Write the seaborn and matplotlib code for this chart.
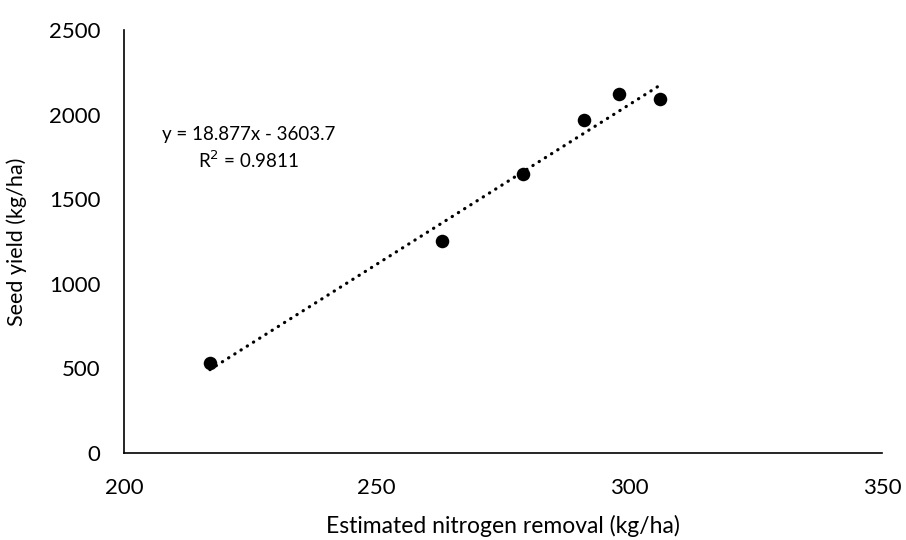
import matplotlib
matplotlib.use("Agg")
import matplotlib.pyplot as plt
import seaborn as sns
import numpy as np
import pandas as pd

# Data
nitrogen_removal = [217, 263, 279, 291, 298, 306]
seed_yield = [530, 1253, 1649, 1968, 2124, 2092]
slope = 18.877
intercept = -3603.7
r_squared = 0.9811
x_ticks = [200, 250, 300, 350]
y_ticks = [0, 500, 1000, 1500, 2000, 2500]

sns.set_theme(style="white")
plt.rcParams['font.family'] = ['Lato', 'DejaVu Sans']
FS = 16

fig = plt.figure(figsize=(9.06, 5.40), dpi=100)
ax = fig.add_axes([0.1369, 0.1611, 0.8366, 0.7833])

df = pd.DataFrame({"x": nitrogen_removal, "y": seed_yield})
sns.scatterplot(data=df, x="x", y="y", ax=ax, color="black", s=95,
                edgecolor="black", linewidth=0, zorder=3)

trend_x = np.array([min(nitrogen_removal), max(nitrogen_removal)])
trend_df = pd.DataFrame({"x": trend_x, "y": slope * trend_x + intercept})
sns.lineplot(data=trend_df, x="x", y="y", ax=ax, color="black",
             linewidth=2.3, linestyle=(0, (0.1, 2.2)), zorder=2)
for line in ax.get_lines():
    line.set_dash_capstyle("round")

ax.set_xlim(200, 350)
ax.set_ylim(0, 2500)
ax.set_xticks(x_ticks)
ax.set_yticks(y_ticks)
ax.tick_params(axis="both", length=0, labelsize=FS, colors="black")
ax.tick_params(axis="x", pad=18)
ax.tick_params(axis="y", pad=17)

for s in ["top", "right"]:
    ax.spines[s].set_visible(False)
for s in ["left", "bottom"]:
    ax.spines[s].set_color("black")
    ax.spines[s].set_linewidth(1.2)

ax.set_xlabel("Estimated nitrogen removal (kg/ha)", fontsize=16.5, labelpad=12, color="black")
ax.set_ylabel("Seed yield (kg/ha)", fontsize=15.5, labelpad=16, color="black")

EFS = 13.5
ax.text(0.164, 0.752, f"y = {slope}x - {abs(intercept)}",
        transform=ax.transAxes, fontsize=EFS, ha="center", va="center", color="black")
ax.text(0.164, 0.693, f"R$^2$ = {r_squared}",
        transform=ax.transAxes, fontsize=EFS, ha="center", va="center", color="black")
fig.savefig("out.png", dpi=100, facecolor="white")
